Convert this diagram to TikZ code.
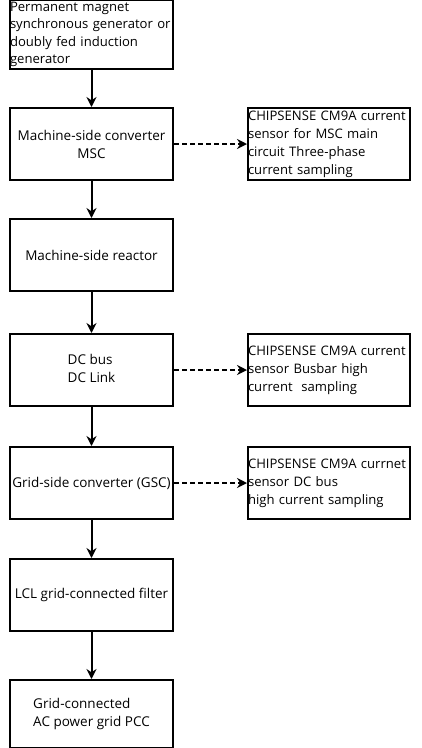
\documentclass[tikz,border=0pt]{standalone}
\usepackage{fontspec}
\setmainfont{Open Sans}
\usetikzlibrary{arrows.meta, positioning}

\begin{document}
\begin{tikzpicture}[
    node distance=38pt and 73pt,
    font=\fontsize{13.5}{18}\selectfont,
    >={Stealth[length=10pt,width=10pt]},
    block/.style={draw=black, line width=2pt, minimum width=163pt,
                  minimum height=72pt, inner sep=1pt, align=center},
    sensor/.style={block, align=left, text width=162pt, inner sep=0pt,
                   minimum width=162pt, font=\fontsize{13.1}{18}\selectfont},
    flow/.style={draw=black, line width=2pt, ->},
    tap/.style={draw=black, line width=1.6pt, dash pattern=on 4.5pt off 3.5pt, ->}
]
  \useasboundingbox (0,0) rectangle (421pt,-748pt);

  % Main power path
  \node[block, minimum height=69pt, align=left, text width=163pt, inner sep=0pt,
        font=\fontsize{13.1}{17.3}\selectfont] (gen) at (91.5pt,-34.5pt)
    {Permanent magnet\\synchronous generator or\\doubly fed induction\\generator};
  \node[block, below=37pt of gen] (msc) {Machine-side converter\\MSC};
  \node[block, below=37pt of msc] (reac) {Machine-side reactor};
  \node[block, below=41pt of reac] (dcbus) {\begin{tabular}{@{}l@{}}DC bus\\DC Link\end{tabular}};
  \node[block, below=39pt of dcbus] (gsc) {Grid-side converter (GSC)};
  \node[block, below=38pt of gsc] (lcl) {LCL grid-connected filter};
  \node[block, below=47pt of lcl, minimum height=68pt] (pcc) {\begin{tabular}{@{}l@{}}Grid-connected\\AC power grid PCC\end{tabular}};

  % Current sensors
  \node[sensor, right=of msc] (cs1) {CHIPSENSE CM9A current\\sensor for MSC main\\circuit Three-phase\\current sampling};
  \node[sensor, right=of dcbus] (cs2) {CHIPSENSE CM9A current\\sensor Busbar high\\current~ sampling};
  \node[sensor, right=of gsc] (cs3) {CHIPSENSE CM9A currnet\\sensor DC bus\\high current sampling};

  % Connectors
  \foreach \a/\b in {gen/msc, msc/reac, reac/dcbus, dcbus/gsc, gsc/lcl, lcl/pcc} {
    \draw[flow] (\a) -- (\b);
  }
  \draw[tap] (msc) -- (cs1);
  \draw[tap] (dcbus) -- (cs2);
  \draw[tap] (gsc) -- (cs3);
\end{tikzpicture}
\end{document}
